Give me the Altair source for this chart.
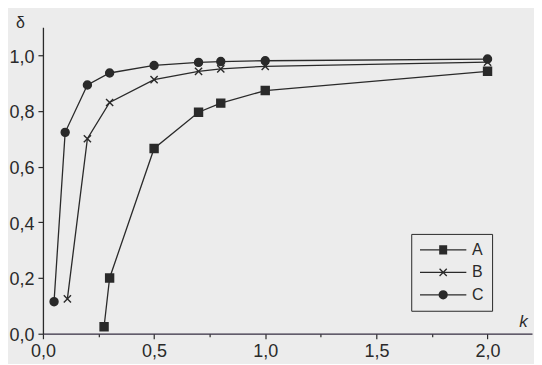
import altair as alt
import pandas as pd

# ---- data ----
series_names = ["A", "B", "C"]

k_A = [0.275, 0.3, 0.5, 0.7, 0.8, 1.0, 2.0]
d_A = [0.025, 0.20, 0.665, 0.795, 0.828, 0.873, 0.942]

k_B = [0.11, 0.2, 0.3, 0.5, 0.7, 0.8, 1.0, 2.0]
d_B = [0.125, 0.70, 0.83, 0.912, 0.942, 0.951, 0.960, 0.975]

k_C = [0.05, 0.1, 0.2, 0.3, 0.5, 0.7, 0.8, 1.0, 2.0]
d_C = [0.115, 0.723, 0.893, 0.936, 0.963, 0.974, 0.977, 0.980, 0.986]

x_ticks = [0, 0.25, 0.5, 0.75, 1.0, 1.25, 1.5, 1.75, 2.0]
y_ticks = [0, 0.1, 0.2, 0.3, 0.4, 0.5, 0.6, 0.7, 0.8, 0.9, 1.0, 1.1]

rows = []
for name, ks, ds in zip(series_names, [k_A, k_B, k_C], [d_A, d_B, d_C]):
    for k, d in zip(ks, ds):
        rows.append({"series": name, "k": k, "d": d})
df = pd.DataFrame(rows)

ink = "#2a2a2a"
bg = "#ececec"
font = "Liberation Sans"

point_shapes = [
    "square",
    "M-0.9,-0.9L0.9,0.9M-0.9,0.9L0.9,-0.9",
    "circle",
]

# legend glyphs: a horizontal line through a marker, drawn with strokes only
levels = [i / 4 for i in range(-4, 5)]
square_hatch = "".join(f"M-1,{y}H1" for y in levels)
circle_hatch = "".join(
    f"M{-((1 - y * y) ** 0.5):.3f},{y}H{((1 - y * y) ** 0.5):.3f}" for y in levels
)
legend_shapes = [
    "M-5.8,0H5.8" + square_hatch,
    "M-5.8,0H5.8M-0.9,-0.9L0.9,0.9M-0.9,0.9L0.9,-0.9",
    "M-5.8,0H5.8" + circle_hatch + "M1,0A1,1,0,1,1,-1,0A1,1,0,1,1,1,0",
]

x_major = "round(datum.value*4)%2==0"
y_major = "round(datum.value*10)%2==0 && datum.value<1.05"

x_axis = alt.Axis(
    values=x_ticks,
    labelExpr=f"{x_major} ? replace(format(datum.value,'.1f'),'.',',') : ''",
    tickSize={"condition": {"test": x_major, "value": 5}, "value": 3},
    grid=False,
    domainColor="#352c40",
    domainWidth=1.3,
    tickColor=ink,
    tickWidth=1.2,
    labelColor=ink,
    labelFont=font,
    labelFontSize=18,
    labelPadding=4,
    labelFlush=False,
    labelOverlap=False,
    title="k",
    titleFont=font,
    titleFontSize=17,
    titleFontStyle="italic",
    titleFontWeight="normal",
    titleColor=ink,
    titleX=481,
    titleY=-12,
    titleAlign="center",
    titleBaseline="middle",
)

y_axis = alt.Axis(
    values=y_ticks,
    labelExpr=f"{y_major} ? replace(format(datum.value,'.1f'),'.',',') : ''",
    tickSize={"condition": {"test": y_major, "value": 5}, "value": 3},
    grid=False,
    domainColor=ink,
    domainWidth=1.3,
    tickColor=ink,
    tickWidth=1.2,
    labelColor=ink,
    labelFont=font,
    labelFontSize=18,
    labelPadding=4,
    labelOffset=2,
    labelOverlap=False,
    labelFlush=False,
    title="δ",
    titleFont=font,
    titleFontSize=16,
    titleFontWeight="normal",
    titleColor=ink,
    titleAngle=0,
    titleX=-23,
    titleY=-5,
    titleAlign="center",
    titleBaseline="middle",
)

x_enc = alt.X("k:Q", scale=alt.Scale(domain=[0, 2.2], nice=False, zero=False), axis=x_axis)
y_enc = alt.Y("d:Q", scale=alt.Scale(domain=[0, 1.1], nice=False), axis=y_axis)

lines = alt.Chart(df).mark_line(color=ink, strokeWidth=1.3).encode(
    x=x_enc, y=y_enc, detail="series:N", order="k:Q"
)

points = alt.Chart(df).mark_point(
    filled=True, size=64, fill=ink, stroke=ink, strokeWidth=1.4, opacity=1
).encode(
    x="k:Q",
    y="d:Q",
    shape=alt.Shape("series:N", scale=alt.Scale(domain=series_names, range=point_shapes), legend=None),
)

legend_layer = alt.Chart(df).mark_point(
    filled=False, size=64, stroke=ink, color=ink, strokeWidth=1.3, opacity=0
).encode(
    x="k:Q",
    y="d:Q",
    shape=alt.Shape(
        "series:N",
        scale=alt.Scale(domain=series_names, range=legend_shapes),
        legend=alt.Legend(
            orient="none",
            legendX=369,
            legendY=207,
            title=None,
            strokeColor=ink,
            fillColor=bg,
            padding=8,
            symbolSize=64,
            symbolStrokeWidth=1.3,
            symbolStrokeColor=ink,
            symbolOpacity=1,
            symbolOffset=16,
            labelOffset=21,
            labelFont=font,
            labelFontSize=16,
            labelColor=ink,
            rowPadding=6.5,
        ),
    ),
)

chart = (
    alt.layer(lines, points, legend_layer)
    .resolve_scale(shape="independent")
    .properties(
        width=490,
        height=307,
        background=bg,
        padding={"left": 35, "top": 19, "right": 2, "bottom": 30},
        autosize=alt.AutoSizeParams(type="none"),
    )
    .configure_view(stroke=None)
)

chart.save("out.html", embed_options={"renderer": "svg", "actions": False})
